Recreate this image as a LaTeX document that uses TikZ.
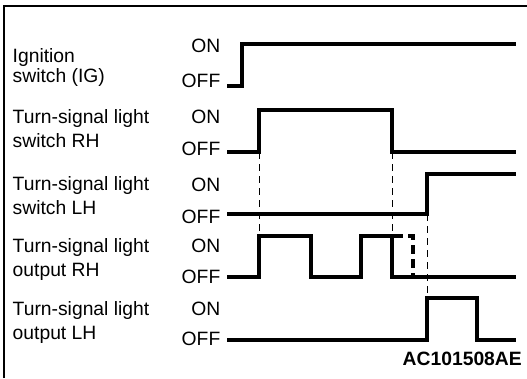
\documentclass[tikz,border=0pt]{standalone}
\usepackage{fontspec}
\setmainfont{Liberation Sans}
\usetikzlibrary{positioning}
\tikzset{
    sig/.style={line width=3.6pt, line join=miter},
    guide/.style={line width=0.9pt, dash pattern=on 7pt off 5pt},
    lbl/.style={anchor=base west, align=left, inner sep=0pt, font=\fontsize{19.3}{23.5}\selectfont},
    lvl/.style={anchor=base east, inner sep=0pt, font=\fontsize{19.3}{23.5}\selectfont},
}
\begin{document}
\begin{tikzpicture}[x=1pt, y=-1pt]
            \useasboundingbox (0,0) rectangle (527,378);
            \draw[line width=1.2pt](4,378)--(4,6)--(527,6);

            % row labels (anchored on their last line)
            \node[lbl, font=\fontsize{19.3}{20}\selectfont] (igLbl) at (12.5,82) {Ignition\\switch (IG)};
            \node[lbl] (rhSwLbl) at (12.5,147) {Turn-signal light\\switch RH};
            \node[lbl] (lhSwLbl) at (12.5,214) {Turn-signal light\\switch LH};
            \node[lbl] (rhOutLbl) at (12.5,276) {Turn-signal light\\output RH};
            \node[lbl] (lhOutLbl) at (12.5,339) {Turn-signal light\\output LH};

            % ON / OFF levels
            \node[lvl] (igOn) at (220.5,52.5) {ON};
            \node[lvl] (igOff) at (220.5,87) {OFF};
            \node[lvl] (rhSwOn) at (220.5,123) {ON};
            \node[lvl] (rhSwOff) at (220.5,155) {OFF};
            \node[lvl] (lhSwOn) at (220.5,191.5) {ON};
            \node[lvl] (lhSwOff) at (220.5,223) {OFF};
            \node[lvl] (rhOutOn) at (220.5,252.5) {ON};
            \node[lvl] (rhOutOff) at (220.5,283) {OFF};
            \node[lvl] (lhOutOn) at (220.5,315) {ON};
            \node[lvl] (lhOutOff) at (220.5,345) {OFF};

            % signals
            \draw[sig](227,86)--(242,86)--(242,44)--(516,44);
            \draw[sig](227,152)--(259,152)--(259,110)--(392,110)--(392,152)--(516,152);
            \draw[sig](227,214)--(427,214)--(427,174)--(516,174);
            \draw[sig](227,277)--(259,277)--(259,236)--(311,236)--(311,277)--(361,277)--(361,236)--(392,236)--(392,277)--(516,277);
            \draw[sig, dash pattern=on 9pt off 5pt, dash phase=12pt](392,236)--(413,236)--(413,277);
            \draw[sig](227,340)--(427,340)--(427,298)--(477,298)--(477,340)--(516,340);

            % timing guides
            \draw[guide](259,152)--(259,236);
            \draw[guide](392,152)--(392,236);
            \draw[guide](427,214)--(427,298);

            \node[anchor=base east, inner sep=0pt, font=\fontsize{19.3}{23.5}\selectfont\bfseries] (figCode) at (522,365) {AC101508AE};
        \end{tikzpicture}
\end{document}
